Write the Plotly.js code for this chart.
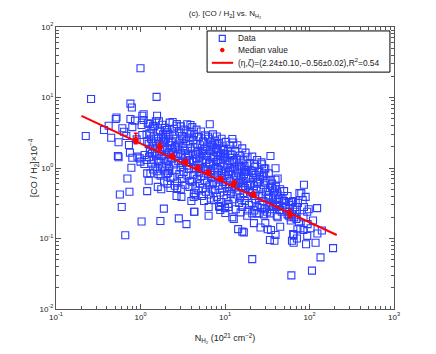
<!DOCTYPE html>
<html>
<head>
<meta charset="utf-8">
<script src="https://cdn.plot.ly/plotly-3.0.1.min.js"></script>
<style>
  html, body { margin: 0; padding: 0; background: #fff; }
  #plot { width: 436px; height: 354px; }
</style>
</head>
<body>
<div id="plot"></div>
<script>
"use strict";

// ── Data points [N_H2 (1e21 cm^-2), CO/H2 (1e-4)] ──
// sparse points around the edges of the cloud
const sparsePts = [
    [1.0, 26], [0.26, 9.5], [1.55, 10.2], [0.76, 8.2], [0.79, 7.2], [1.09, 5.8], [1.05, 5.5],
    [1.57, 5.5], [0.52, 5.2], [0.51, 4.95], [0.76, 4.95], [0.86, 4.7], [1.09, 4.8], [1.52, 4.6],
    [0.42, 3.98], [0.37, 3.46], [0.61, 3.66], [0.64, 3.27], [0.80, 3.8], [1.03, 4.07], [1.29, 4.2],
    [1.41, 3.98], [2.22, 4.4], [2.67, 3.98], [3.57, 4.17], [1.94, 3.73], [2.03, 3.46],
    [0.225, 2.84], [0.45, 2.69], [0.55, 2.32], [0.68, 2.84], [0.73, 2.12], [0.90, 2.55], [1.05, 2.94],
    [1.18, 3.0], [1.20, 2.36], [0.75, 1.65], [0.54, 1.48], [0.55, 1.42], [0.80, 1.40], [0.98, 1.37],
    [1.12, 1.53], [1.18, 1.30], [1.0, 1.23], [0.92, 1.45],
    [1.20, 0.84], [1.31, 0.84], [0.70, 0.71], [0.78, 1.01], [1.11, 1.14], [1.25, 0.66], [1.63, 0.82],
    [2.03, 0.82], [2.16, 1.04], [0.57, 0.42], [0.74, 0.46], [1.20, 0.47], [1.60, 0.54], [1.76, 0.50],
    [2.26, 0.52], [2.72, 0.52], [2.67, 0.40], [0.60, 0.28], [1.89, 0.265], [1.03, 0.174],
    [1.72, 0.177], [2.84, 0.193], [0.66, 0.111], [3.05, 0.39], [4.0, 0.34], [4.3, 0.24], [3.5, 0.16],
    [86, 0.58], [80, 0.44], [90, 0.39], [123, 0.27], [98, 0.26], [94, 0.24], [73, 0.32], [62, 0.33],
    [57, 0.33], [50, 0.34], [42, 0.29], [45, 0.254], [37, 0.28], [34.5, 0.315], [41, 0.21], [42, 0.2],
    [72, 0.135], [85, 0.132], [103, 0.14], [140, 0.13], [64, 0.116], [62, 0.093], [65, 0.087],
    [94, 0.109], [118, 0.087], [91, 0.083], [190, 0.073], [135, 0.054], [107, 0.035], [61, 0.030],
    [21, 0.051], [34, 0.095], [38.5, 0.093], [39.6, 0.112], [14.3, 0.136], [16.7, 0.122], [22, 0.165],
    [26.3, 0.143], [30, 0.165], [32, 0.135], [21, 0.227], [23.6, 0.227], [25, 0.227], [29, 0.22],
    [34, 0.227], [41, 0.28], [12.2, 0.2], [12.7, 0.19], [18.3, 0.21], [6.4, 0.28], [6.4, 0.21],
    [8.8, 0.254], [10.1, 0.23], [11, 0.28], [4.35, 0.24], [4.26, 0.39], [4.5, 0.41], [34.5, 0.68],
    [39.6, 0.68], [42, 0.71], [36, 0.52], [29, 0.84], [24, 0.64], [33, 0.41], [33, 0.37],
    [39.6, 0.41], [43, 0.36],
    [6.6, 4.17], [6.3, 2.78], [12.2, 2.58], [8.1, 2.17], [7.1, 2.12], [7.7, 1.9], [9.7, 1.8],
    [10.1, 1.56], [9.7, 1.45], [12.7, 1.3], [12.2, 1.17], [15.3, 1.3], [15.3, 1.04], [34.5, 1.48],
    [22, 1.13], [27.5, 1.13], [29, 0.99], [39.6, 0.99], [21, 0.89], [17.5, 0.89], [3.9, 4.07],
    [3.9, 3.27], [4.7, 2.78],
    [76, 0.44], [83, 0.35], [8.6, 0.28], [16, 0.125], [35, 0.132], [45, 0.147], [124, 0.118],
    [65, 0.112], [71, 0.1], [64, 0.34], [86, 0.28], [71, 0.254], [68, 0.24], [78, 0.14]
];

// dense core of the cloud, column by column
const corePts = [
    [1.22, 4.3], [1.35, 3.6], [1.28, 3.1], [1.45, 2.8], [1.33, 2.6], [1.52, 2.4], [1.25, 2.2],
    [1.4, 2.05], [1.58, 1.95], [1.3, 1.85], [1.48, 1.7], [1.37, 1.6], [1.55, 1.5], [1.26, 1.42],
    [1.43, 1.3], [1.6, 1.25], [1.34, 1.15], [1.5, 1.05], [1.41, 0.95], [1.56, 0.9], [1.29, 1.7],
    [1.6, 3.3], [1.46, 3.9], [1.38, 2.3],
    [1.65, 4.6], [1.8, 4.1], [1.95, 3.7], [1.7, 3.4], [2.1, 3.2], [1.85, 3.0], [2.2, 2.9],
    [1.75, 2.7], [2.0, 2.6], [1.9, 2.45], [2.15, 2.3], [1.68, 2.2], [2.25, 2.1], [1.82, 2.0],
    [2.05, 1.9], [1.92, 1.8], [1.72, 1.72], [2.18, 1.65], [1.98, 1.55], [1.78, 1.48], [2.28, 1.4],
    [1.88, 1.33], [2.1, 1.25], [1.66, 1.2], [2.02, 1.12], [1.8, 1.05], [2.2, 0.98], [1.95, 0.92],
    [2.12, 0.85], [1.73, 0.78], [2.26, 0.72], [1.9, 0.65], [2.08, 0.6], [1.85, 2.3], [2.0, 3.0],
    [1.62, 2.6],
    [2.4, 4.5], [2.7, 4.2], [3.0, 3.9], [2.5, 3.6], [3.3, 3.5], [2.85, 3.3], [3.6, 3.1],
    [2.45, 3.0], [3.1, 2.85], [3.8, 2.7], [2.6, 2.6], [2.95, 2.45], [3.45, 2.4], [2.35, 2.3],
    [3.7, 2.2], [2.75, 2.15], [3.2, 2.05], [2.55, 1.95], [3.9, 1.9], [2.9, 1.82], [3.35, 1.75],
    [2.42, 1.68], [3.65, 1.6], [3.05, 1.55], [2.65, 1.48], [3.5, 1.42], [2.38, 1.35], [3.85, 1.3],
    [2.8, 1.25], [3.15, 1.18], [2.5, 1.12], [3.55, 1.08], [2.98, 1.02], [3.75, 0.97], [2.62, 0.93],
    [3.25, 0.88], [2.88, 0.82], [3.6, 0.78], [2.45, 0.75], [3.1, 0.7], [3.9, 0.66], [2.7, 0.62],
    [3.4, 0.58], [2.55, 0.56], [3.8, 0.54], [3.0, 0.5], [2.35, 1.9], [3.3, 2.6], [2.78, 1.6],
    [3.45, 1.2], [2.6, 2.0], [3.7, 1.5],
    [4.1, 3.8], [4.6, 3.5], [5.2, 3.3], [4.3, 3.0], [5.8, 2.9], [4.9, 2.75], [6.4, 2.6],
    [4.2, 2.5], [5.5, 2.4], [6.8, 2.3], [4.7, 2.2], [5.1, 2.1], [6.1, 2.0], [4.4, 1.95],
    [5.7, 1.85], [6.6, 1.78], [4.8, 1.7], [5.3, 1.62], [4.15, 1.55], [6.2, 1.5], [5.0, 1.45],
    [6.9, 1.4], [4.55, 1.35], [5.9, 1.3], [4.25, 1.25], [5.4, 1.2], [6.5, 1.15], [4.75, 1.1],
    [6.0, 1.05], [5.15, 1.0], [4.35, 0.96], [6.7, 0.93], [5.6, 0.9], [4.9, 0.86], [6.3, 0.82],
    [4.2, 0.8], [5.25, 0.77], [6.85, 0.73], [4.65, 0.7], [5.75, 0.67], [4.05, 0.64], [6.15, 0.62],
    [5.05, 0.6], [6.55, 0.57], [4.45, 0.55], [5.45, 0.52], [6.95, 0.5], [4.85, 0.48], [5.95, 0.46],
    [4.3, 0.44], [6.4, 0.42], [5.35, 0.4], [6.8, 0.37], [5.65, 0.34], [4.6, 1.6], [5.5, 1.75],
    [6.0, 1.6], [4.95, 1.25], [6.6, 1.2], [5.8, 0.95],
    [7.2, 3.0], [8.0, 2.8], [9.1, 2.6], [7.6, 2.45], [10.2, 2.35], [8.5, 2.25], [11.3, 2.1],
    [7.1, 2.0], [9.6, 1.95], [8.2, 1.85], [10.8, 1.75], [7.8, 1.68], [9.0, 1.62], [11.6, 1.55],
    [8.7, 1.5], [7.4, 1.44], [10.0, 1.4], [9.4, 1.33], [11.0, 1.27], [7.9, 1.22], [8.9, 1.17],
    [10.5, 1.12], [7.3, 1.08], [9.8, 1.04], [11.4, 1.0], [8.3, 0.96], [10.3, 0.92], [7.5, 0.89],
    [9.2, 0.86], [11.1, 0.83], [8.1, 0.8], [9.9, 0.77], [7.7, 0.74], [10.7, 0.71], [8.6, 0.68],
    [11.5, 0.65], [9.5, 0.63], [7.2, 0.6], [10.1, 0.58], [8.4, 0.56], [11.2, 0.53], [9.3, 0.51],
    [7.6, 0.49], [10.6, 0.47], [8.8, 0.45], [11.7, 0.43], [9.7, 0.41], [8.0, 0.39], [10.4, 0.37],
    [7.4, 0.35], [9.0, 0.33], [11.0, 0.31], [8.5, 0.29], [10.0, 0.27], [7.9, 1.9], [9.6, 1.6],
    [8.2, 1.3], [10.9, 0.88], [9.1, 0.72], [7.7, 1.0],
    [12.5, 2.3], [14.0, 2.1], [16.0, 1.9], [13.2, 1.75], [17.5, 1.65], [12.0, 1.55], [15.0, 1.5],
    [18.5, 1.42], [13.8, 1.35], [16.5, 1.28], [12.8, 1.22], [19.5, 1.18], [14.6, 1.12], [17.0, 1.07],
    [13.0, 1.02], [15.8, 0.98], [18.0, 0.94], [12.3, 0.9], [14.3, 0.86], [16.8, 0.82], [19.0, 0.79],
    [13.5, 0.76], [15.4, 0.73], [17.8, 0.7], [12.6, 0.67], [14.9, 0.64], [16.2, 0.61], [18.8, 0.58],
    [13.1, 0.56], [15.6, 0.54], [17.3, 0.52], [12.2, 0.5], [14.4, 0.48], [19.8, 0.46], [16.6, 0.44],
    [13.7, 0.42], [18.3, 0.4], [15.1, 0.38], [12.9, 0.36], [17.1, 0.34], [14.7, 0.32], [19.2, 0.3],
    [16.0, 0.28], [13.4, 0.26], [18.6, 0.25], [15.3, 0.235], [14.1, 0.62], [17.6, 0.88], [13.9, 0.95],
    [16.4, 0.55],
    [21, 1.45], [24, 1.3], [27, 1.2], [22.5, 1.05], [30, 0.98], [20.5, 0.92], [25.5, 0.88],
    [33, 0.84], [23, 0.8], [28, 0.76], [21.5, 0.72], [26, 0.69], [31, 0.66], [24.5, 0.63],
    [20.2, 0.6], [29, 0.57], [22, 0.55], [34, 0.52], [26.5, 0.5], [23.5, 0.48], [30.5, 0.46],
    [21.2, 0.44], [27.5, 0.42], [25, 0.4], [32, 0.38], [22.8, 0.36], [28.5, 0.34], [20.8, 0.32],
    [26.2, 0.3], [33.5, 0.29], [24.2, 0.28], [29.5, 0.26], [22.2, 0.25], [31.5, 0.24], [27.2, 0.27],
    [23.8, 0.6], [30.2, 0.62], [25.8, 0.75], [21.8, 0.85],
    [36, 0.6], [40, 0.55], [45, 0.5], [38, 0.45], [50, 0.47], [42, 0.42], [55, 0.4], [37, 0.38],
    [48, 0.36], [58, 0.3], [44, 0.33], [40, 0.3], [52, 0.28], [36, 0.26], [47, 0.24], [55, 0.22],
    [60, 0.2], [43, 0.37], [39, 0.5], [53, 0.25],
    [62, 0.22], [58, 0.24], [66, 0.2], [57, 0.21], [70, 0.19], [64, 0.26], [60, 0.18], [75, 0.17],
    [85, 0.2], [95, 0.16], [110, 0.18], [68, 0.28]
];

// binned medians with error bars
const medN       = [0.88, 1.69, 2.37, 3.41, 4.77, 6.33, 8.85, 12.8, 21.6, 58.5];
const medRatio   = [2.50, 2.00, 1.47, 1.23, 1.01, 0.86, 0.70, 0.61, 0.42, 0.22];
const medErrUp   = [0.60, 0.25, 0.12, 0.08, 0.07, 0.06, 0.05, 0.04, 0.035, 0.035];
const medErrDown = [0.30, 0.20, 0.12, 0.08, 0.07, 0.06, 0.05, 0.04, 0.035, 0.025];

// power-law fit, end points of the drawn line
const fitN     = [0.2, 210];
const fitRatio = [5.5, 0.112];

const legendLabels = ["Data", "Median value",
                      "(η,ζ)=(2.24±0.10,−0.56±0.02),R<sup>2</sup>=0.54"];

const decadeVals = [0.1, 1, 10, 100, 1000];
const xTickText  = ["10<sup>-1</sup>", "10<sup>0</sup>", "10<sup>1</sup>", "10<sup>2</sup>", "10<sup>3</sup>"];
const yTickVals  = [0.01, 0.1, 1, 10, 100];
const yTickText  = ["10<sup>-2</sup>", "10<sup>-1</sup>", "10<sup>0</sup>", "10<sup>1</sup>", "10<sup>2</sup>"];

function minorTicks(lo, hi) {
    const out = [];
    for (let d = lo; d < hi; d++)
        for (let k = 2; k <= 9; k++) out.push(k * Math.pow(10, d));
    return out;
}

const allPts = sparsePts.concat(corePts);
const AXIS = "#555555";
const BLUE = "#2b3cff";
const RED = "#ff0000";
const FONT = "Liberation Sans, Arial, sans-serif";

const traces = [
    {
        type: "scatter", mode: "markers",
        x: allPts.map(p => p[0]), y: allPts.map(p => p[1]),
        name: legendLabels[0],
        marker: { symbol: "square-open", size: 7, color: BLUE, line: { width: 1.1 } },
    },
    {
        type: "scatter", mode: "lines",
        x: fitN, y: fitRatio,
        name: legendLabels[2],
        line: { color: RED, width: 2 },
    },
    {
        type: "scatter", mode: "markers",
        x: medN, y: medRatio,
        name: legendLabels[1],
        marker: { symbol: "circle", size: 6, color: RED },
        error_y: { type: "data", symmetric: false,
                   array: medErrUp, arrayminus: medErrDown,
                   color: RED, thickness: 1.5, width: 2 },
    },
];

// ── Compact boxed legend (plotly's own legend rows are too tall) ──
// Paper coordinates of the box, symbol column and rows.
const LG = { x0: 0.447, x1: 0.988, y0: 0.840, y1: 0.986,
             symX: 0.492, textX: 0.532, rows: [0.960, 0.918, 0.873] };
const sx = 3 / 338, sy = 3 / 282;   // half a 6 px square, in paper units

const shapes = [
    { type: "rect", xref: "paper", yref: "paper",
      x0: LG.x0, x1: LG.x1, y0: LG.y0, y1: LG.y1,
      line: { color: "#000", width: 1 }, fillcolor: "#fff", layer: "above" },
    { type: "rect", xref: "paper", yref: "paper",
      x0: LG.symX - sx, x1: LG.symX + sx, y0: LG.rows[0] - sy, y1: LG.rows[0] + sy,
      line: { color: BLUE, width: 1.2 }, layer: "above" },
    { type: "circle", xref: "paper", yref: "paper",
      x0: LG.symX - 0.6 * sx, x1: LG.symX + 0.6 * sx,
      y0: LG.rows[1] - 0.6 * sy, y1: LG.rows[1] + 0.6 * sy,
      line: { color: RED, width: 1 }, fillcolor: RED, layer: "above" },
    { type: "line", xref: "paper", yref: "paper",
      x0: 0.461, x1: 0.524, y0: LG.rows[2], y1: LG.rows[2],
      line: { color: RED, width: 2 }, layer: "above" },
];

const annotations = legendLabels.map((t, i) => ({
    text: t, xref: "paper", yref: "paper",
    x: LG.textX, y: LG.rows[i], xanchor: "left", yanchor: "middle",
    showarrow: false, font: { size: 8.4, color: "#222" },
}));

const axisBase = {
    type: "log",
    ticks: "inside", ticklen: 5, tickcolor: AXIS, tickwidth: 1,
    showline: true, linecolor: AXIS, linewidth: 1, mirror: "allticks",
    showgrid: false, zeroline: false,
    tickfont: { size: 8, color: "#222" },
};

const layout = {
    width: 436, height: 354,
    margin: { l: 56, r: 42, t: 27, b: 45 },
    paper_bgcolor: "#fff", plot_bgcolor: "#fff",
    font: { family: FONT, color: "#222" },
    showlegend: false,
    shapes: shapes,
    annotations: annotations,
    title: {
        text: "(c). [CO / H<sub>2</sub>] vs. N<sub>H₂</sub>",
        x: 0.516, xanchor: "center", xref: "container",
        y: 0.962, yanchor: "middle", yref: "container",
        font: { size: 8, color: "#222" },
    },
    xaxis: Object.assign({}, axisBase, {
        range: [-1, 3],
        tickvals: decadeVals, ticktext: xTickText,
        minor: { tickvals: minorTicks(-1, 3), ticks: "inside", ticklen: 3,
                 tickcolor: AXIS, showgrid: false },
        title: { text: "N<sub>H₂</sub> (10<sup>21</sup> cm<sup>−2</sup>)",
                 font: { size: 9 }, standoff: 14 },
    }),
    yaxis: Object.assign({}, axisBase, {
        range: [-2, 2],
        tickvals: yTickVals, ticktext: yTickText,
        minor: { tickvals: minorTicks(-2, 2), ticks: "inside", ticklen: 3,
                 tickcolor: AXIS, showgrid: false },
        title: { text: "[CO / H<sub>2</sub>]×10<sup>−4</sup>",
                 font: { size: 9 }, standoff: 0 },
    }),
};

Plotly.newPlot("plot", traces, layout, { displayModeBar: false, staticPlot: true });
</script>
</body>
</html>
